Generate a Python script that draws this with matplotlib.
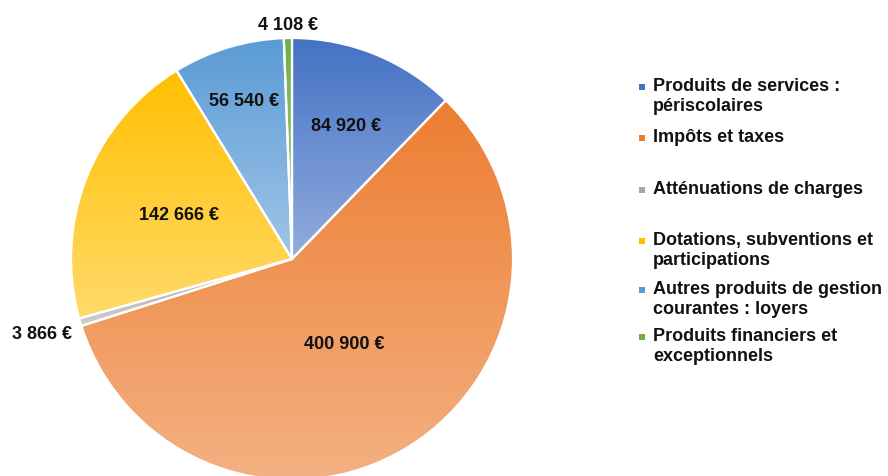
import numpy as np
import matplotlib
matplotlib.use("Agg")
import matplotlib.pyplot as plt
from matplotlib.colors import to_rgb
from matplotlib.patches import Rectangle

categories = [
    "Produits de services :\npériscolaires",
    "Impôts et taxes",
    "Atténuations de charges",
    "Dotations, subventions et\nparticipations",
    "Autres produits de gestion\ncourantes : loyers",
    "Produits financiers et\nexceptionnels",
]
values = [84920, 400900, 3866, 142666, 56540, 4108]
value_labels = ["84 920 €", "400 900 €", "3 866 €", "142 666 €", "56 540 €", "4 108 €"]

top_colors = ["#4472C4", "#ED7D31", "#A5A5A5", "#FFC000", "#5B9BD5", "#70AD47"]
bottom_colors = ["#93ACDD", "#F4B183", "#CFCFCF", "#FFDA6A", "#A1C5E8", "#A9D18E"]
label_dist = [0.65, 0.45, 1.18, 0.55, 0.75, 1.06]

W, H = 888, 477
fig = plt.figure(figsize=(W / 100, H / 100), dpi=100)
fig.patch.set_facecolor("white")

cx, cy, R = 292, 260, 221
ax = fig.add_axes([(cx - R) / W, (H - (cy + R)) / H, 2 * R / W, 2 * R / H])
ax.axis("off")

wedges, _ = ax.pie(values, startangle=90, counterclock=False, radius=1,
                   wedgeprops=dict(edgecolor="white", linewidth=1.6))

for w, c0, c1 in zip(wedges, top_colors, bottom_colors):
    verts = w.get_patch_transform().transform(w.get_path().vertices)
    x0, y0 = verts.min(axis=0)
    x1, y1 = verts.max(axis=0)
    t = np.linspace(0, 1, 256)[:, None, None]
    grad = (1 - t) * np.array(to_rgb(c0))[None, None, :] + t * np.array(to_rgb(c1))[None, None, :]
    im = ax.imshow(grad, extent=(x0, x1, y0, y1), origin="upper", aspect="auto",
                   interpolation="bilinear", zorder=1)
    im.set_clip_path(w)
    w.set_facecolor("none")
    w.set_zorder(2)

for w, lab, d in zip(wedges, value_labels, label_dist):
    mid = np.deg2rad((w.theta1 + w.theta2) / 2)
    ax.text(d * np.cos(mid), d * np.sin(mid), lab, ha="center", va="center",
            fontsize=13, fontweight="bold", family="Liberation Sans", color="#111111",
            zorder=3)

ax.set_xlim(-1, 1)
ax.set_ylim(-1, 1)

# legend
legend_y = [88, 139, 191, 242, 291, 338]
for cat, col, y in zip(categories, top_colors, legend_y):
    fig.patches.append(Rectangle(((639) / W, (H - y - 3) / H), 6 / W, 6 / H,
                                 transform=fig.transFigure, facecolor=col,
                                 edgecolor="none"))
    fig.text(653 / W, (H - y + 10) / H, cat, ha="left", va="top", fontsize=13,
             fontweight="bold", family="Liberation Sans", color="#111111",
             linespacing=1.2)

fig.savefig("out.png", dpi=100, facecolor="white")
